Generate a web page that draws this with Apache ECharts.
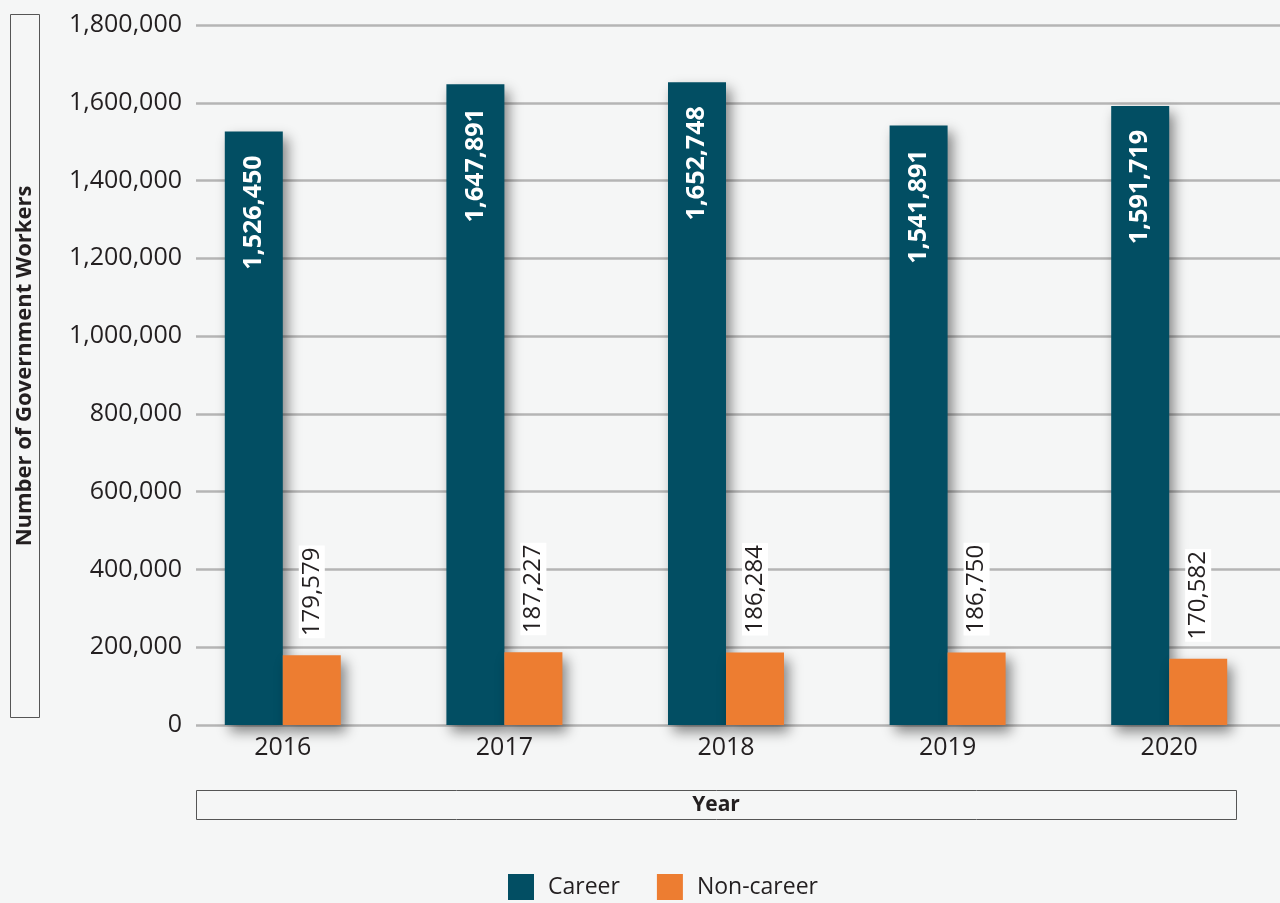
<!DOCTYPE html>
<html>
<head>
<meta charset="utf-8">
<script src="https://cdn.jsdelivr.net/npm/echarts@6/dist/echarts.min.js"></script>
<style>
html,body{margin:0;padding:0;background:#f5f6f6;}
#chart{width:1280px;height:903px;}
</style>
</head>
<body>
<div id="chart"></div>
<script>
const years = ['2016', '2017', '2018', '2019', '2020'];
const career = [1526450, 1647891, 1652748, 1541891, 1591719];
const nonCareer = [179579, 187227, 186284, 186750, 170582];
const yTicks = [0, 200000, 400000, 600000, 800000, 1000000, 1200000, 1400000, 1600000, 1800000];

const FONT = '"Open Sans", "Noto Sans", sans-serif';
const fmt = v => Number(v).toLocaleString('en-US');

const chart = echarts.init(document.getElementById('chart'));
const shadow = {shadowColor: 'rgba(0,0,0,0.45)', shadowBlur: 12, shadowOffsetX: 5, shadowOffsetY: 7};

chart.setOption({
  backgroundColor: '#f5f6f6',
  textStyle: {fontFamily: FONT},
  grid: [
    {left: 172, top: 25, width: 1111, height: 700},
    {left: 196, top: 25, right: 0, height: 700}
  ],
  xAxis: [
    {type: 'category', gridIndex: 0, data: years,
     axisLine: {show: false}, axisTick: {show: false},
     axisLabel: {fontSize: 25, color: '#231f20', margin: 10, fontFamily: FONT}},
    {type: 'category', gridIndex: 1, data: years, show: false}
  ],
  yAxis: [
    {type: 'value', gridIndex: 0, min: 0, max: yTicks[yTicks.length - 1], interval: 200000, show: false,
     splitLine: {show: false}},
    {type: 'value', gridIndex: 1, min: 0, max: yTicks[yTicks.length - 1], interval: 200000,
     axisLine: {show: false}, axisTick: {show: false},
     axisLabel: {fontSize: 25, color: '#231f20', margin: 14, fontFamily: FONT, formatter: v => fmt(v)},
     splitLine: {lineStyle: {color: '#b5b5b5', width: 2.5}}}
  ],
  legend: {
    left: 503, top: 869, itemWidth: 26, itemHeight: 26, itemGap: 37,
    icon: 'rect',
    textStyle: {fontSize: 23, color: '#231f20', fontFamily: FONT, padding: [0, 0, 0, 9]},
    data: ['Career', 'Non-career']
  },
  series: [
    {name: 'Career', type: 'bar', xAxisIndex: 0, yAxisIndex: 0, data: career,
     barWidth: 58, barGap: '0%',
     itemStyle: Object.assign({color: '#024e63'}, shadow),
     label: {show: true, position: 'insideTop', rotate: 90, align: 'right', verticalAlign: 'middle',
       distance: 24, color: '#ffffff', fontWeight: 'bold', fontSize: 25, fontFamily: FONT,
       formatter: p => fmt(p.value)}},
    {name: 'Non-career', type: 'bar', xAxisIndex: 0, yAxisIndex: 0, data: nonCareer,
     barWidth: 58, barGap: '0%',
     itemStyle: Object.assign({color: '#ed7d31'}, shadow),
     label: {show: true, position: 'top', rotate: 90, align: 'left', verticalAlign: 'middle',
       distance: 17, color: '#231f20', fontSize: 24, fontFamily: FONT,
       backgroundColor: '#ffffff', padding: [1, 2, 1, 2],
       formatter: p => fmt(p.value)}}
  ],
  graphic: [
    {type: 'rect', shape: {x: 10.5, y: 14.5, width: 29, height: 703},
     style: {fill: 'none', stroke: '#555555', lineWidth: 1}},
    {type: 'text', x: 25, y: 366, rotation: Math.PI / 2,
     style: {text: 'Number of Government Workers', font: 'bold 22px ' + FONT, fill: '#231f20',
       textAlign: 'center', textVerticalAlign: 'middle'}},
    {type: 'rect', shape: {x: 196.5, y: 790.5, width: 1040, height: 29},
     style: {fill: 'none', stroke: '#555555', lineWidth: 1}},
    {type: 'text', x: 716, y: 805,
     style: {text: 'Year', font: 'bold 21px ' + FONT, fill: '#231f20',
       textAlign: 'center', textVerticalAlign: 'middle'}}
  ]
});
</script>
</body>
</html>
